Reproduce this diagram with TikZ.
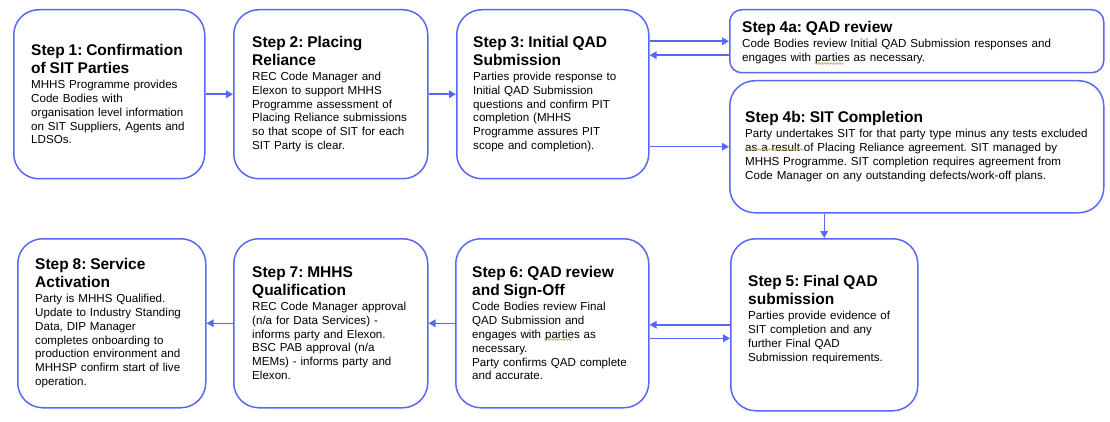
\documentclass[tikz,border=0pt]{standalone}
\usepackage{fontspec}
\setmainfont{Liberation Sans}
\usetikzlibrary{arrows.meta,calc,decorations.pathmorphing}
\definecolor{edge}{RGB}{88,104,245}
\definecolor{squig}{RGB}{200,170,100}
\newcommand{\ttlf}{\fontsize{15.5}{17.6}\selectfont\bfseries}
\newcommand{\bodf}{\fontsize{11.6}{13.9}\selectfont}
\newcommand{\ttl}[1]{{\ttlf #1\par}\vspace{1.2pt}}
\frenchspacing
\begin{document}
\begin{tikzpicture}[x=1pt,y=-1pt,
  stepbox/.style={draw=edge, line width=1.5pt, rounded corners=25pt, fill=white, inner sep=0pt, anchor=north west},
  smallbox/.style={stepbox, rounded corners=12pt},
  txt/.style={anchor=west, align=left, text width=380pt, inner sep=0pt, font=\bodf\frenchspacing},
  arr/.style={draw=edge, line width=1.5pt, -{Triangle[length=7pt,width=7.5pt]}},
  squiggle/.style={draw=squig, line width=0.7pt, decorate, decoration={snake, amplitude=0.8pt, segment length=3pt}}]
\useasboundingbox (0,0) rectangle (1110,422);
% boxes
\node[stepbox, minimum width=191pt, minimum height=169pt] (b1) at (13,9) {};
\node[stepbox, minimum width=194pt, minimum height=169pt] (b2) at (233,9) {};
\node[stepbox, minimum width=192pt, minimum height=169pt] (b3) at (456,9) {};
\node[smallbox, minimum width=374pt, minimum height=63pt] (b4a) at (729,9) {};
\node[stepbox, minimum width=374pt, minimum height=132pt] (b4b) at (729,80) {};
\node[stepbox, minimum width=187pt, minimum height=172pt] (b5) at (730,238) {};
\node[stepbox, minimum width=193pt, minimum height=169pt] (b6) at (455,238) {};
\node[stepbox, minimum width=194pt, minimum height=169pt] (b7) at (233,238) {};
\node[stepbox, minimum width=188pt, minimum height=169pt] (b8) at (17,238) {};
% texts
\node[txt] (t1) at ([xshift=18pt]b1.west) {\ttl{Step 1: Confirmation\\of SIT Parties}MHHS Programme provides\\Code Bodies with\\organisation level information\\on SIT Suppliers, Agents and\\LDSOs.};
\node[txt] (t2) at ([xshift=19pt]b2.west) {\ttl{Step 2: Placing\\Reliance}REC Code Manager and\\Elexon to support MHHS\\Programme assessment of\\Placing Reliance submissions\\so that scope of SIT for each\\SIT Party is clear.};
\node[txt] (t3) at ([xshift=17pt]b3.west) {\ttl{Step 3: Initial QAD\\Submission}Parties provide response to\\Initial QAD Submission\\questions and confirm PIT\\completion (MHHS\\Programme assures PIT\\scope and completion).};
\node[txt] (t4a) at ([xshift=13pt,yshift=-1pt]b4a.west) {\ttl{Step 4a: QAD review}Code Bodies review Initial QAD Submission responses and\\engages with parties as necessary.};
\node[txt] (t4b) at ([xshift=16pt]b4b.west) {\ttl{Step 4b: SIT Completion}Party undertakes SIT for that party type minus any tests excluded\\as a result of Placing Reliance agreement. SIT managed by\\MHHS Programme. SIT completion requires agreement from\\Code Manager on any outstanding defects/work-off plans.};
\node[txt] (t5) at ([xshift=18pt,yshift=5pt]b5.west) {\ttl{Step 5: Final QAD\\submission}Parties provide evidence of\\SIT completion and any\\further Final QAD\\Submission requirements.};
\node[txt] (t6) at ([xshift=17pt]b6.west) {\ttl{Step 6: QAD review\\and Sign-Off}Code Bodies review Final\\QAD Submission and\\engages with parties as\\necessary.\\Party confirms QAD complete\\and accurate.};
\node[txt] (t7) at ([xshift=19pt]b7.west) {\ttl{Step 7: MHHS\\Qualification}REC Code Manager approval\\(n/a for Data Services) -\\informs party and Elexon.\\BSC PAB approval (n/a\\MEMs) - informs party and\\Elexon.};
\node[txt] (t8) at ([xshift=18pt]b8.west) {\ttl{Step 8: Service\\Activation}Party is MHHS Qualified.\\Update to Industry Standing\\Data, DIP Manager\\completes onboarding to\\production environment and\\MHHSP confirm start of live\\operation.};
% spell-check squiggles
\draw[squiggle] (815,63.5) -- (843,63.5);
\draw[squiggle] (746,149.5) -- (804,149.5);
\draw[squiggle] (544,339.5) -- (572,339.5);
% connectors
\draw[arr] (b1.east) -- (b2.west);
\draw[arr] (b2.east) -- (b3.west);
\draw[arr] (b3.east |- b4a.west) -- (b4a.west);
\coordinate (r4a) at ([yshift=-14pt]b4a.west);
\draw[arr] (r4a) -- (b3.east |- r4a);
\draw[arr] (b3.east |- b4b.west) -- (b4b.west);
\draw[arr] (b4b.south -| b5.north) -- (b5.north);
\draw[arr] (b5.west) -- (b6.east |- b5.west);
\coordinate (r6) at ([yshift=-15pt]b6.east);
\draw[arr] (r6) -- (b5.west |- r6);
\draw[arr] (b6.west) -- (b7.east);
\draw[arr] (b7.west) -- (b8.east);
\end{tikzpicture}
\end{document}
